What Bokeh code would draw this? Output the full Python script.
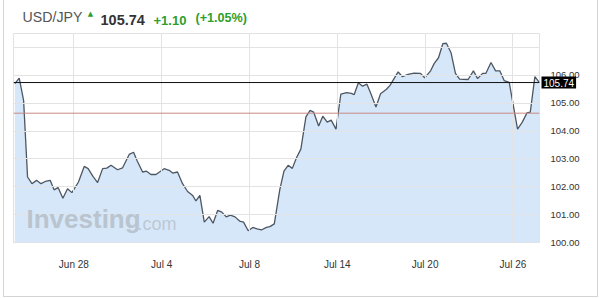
from bokeh.plotting import figure
from bokeh.layouts import row, column
from bokeh.models import (FixedTicker, Span, Label, NumeralTickFormatter, Range1d, Spacer)
from bokeh.embed import file_html
from bokeh.resources import INLINE

# Trading-day offsets (Jun 28 = 0) and USD/JPY prices
t_days = [-2.69, -2.49, -2.29, -2.11, -1.91, -1.70, -1.50, -1.30, -1.08, -0.90,
          -0.72, -0.50, -0.29, -0.09, 0.21, 0.47, 0.65, 0.87, 1.08, 1.31,
          1.50, 1.69, 1.99, 2.22, 2.52, 2.72, 2.87, 3.13, 3.31, 3.51,
          3.74, 4.11, 4.34, 4.50, 4.72, 4.95, 5.18, 5.41, 5.56, 5.74,
          5.94, 6.16, 6.34, 6.55, 6.74, 6.94, 7.13, 7.34, 7.55, 7.73,
          7.94, 8.15, 8.35, 8.54, 8.77, 8.93, 9.13, 9.38, 9.57, 9.76,
          9.95, 10.14, 10.34, 10.57, 10.76, 10.92, 11.15, 11.34, 11.54, 11.72,
          11.94, 12.16, 12.43, 12.64, 12.77, 12.96, 13.15, 13.35, 13.53, 13.76,
          13.97, 14.24, 14.40, 14.77, 14.97, 15.22, 15.50, 15.79, 15.98, 16.25,
          16.41, 16.61, 16.81, 16.97, 17.18, 17.38, 17.57, 17.96, 18.20, 18.39,
          18.62, 18.77, 19.00, 19.21, 19.40, 19.60, 19.83, 20.21, 20.42, 20.64,
          20.79, 21.00, 21.21]
usd_jpy = [105.70, 105.90, 105.10, 102.35, 102.11, 102.23, 102.11, 102.19, 102.23, 101.89,
           101.97, 101.59, 101.93, 101.79, 102.17, 102.73, 102.65, 102.37, 102.15, 102.65,
           102.67, 102.77, 102.61, 102.68, 103.16, 103.24, 102.95, 102.53, 102.56, 102.44,
           102.44, 102.65, 102.59, 102.49, 102.53, 102.11, 101.83, 101.69, 101.49, 101.69,
           100.73, 100.93, 100.69, 101.15, 101.09, 100.92, 100.98, 100.92, 100.77, 100.73,
           100.42, 100.54, 100.49, 100.45, 100.54, 100.57, 100.67, 101.90, 102.56, 102.77,
           102.66, 103.04, 103.35, 104.51, 104.74, 104.68, 104.18, 104.53, 104.32, 104.39,
           104.07, 105.32, 105.38, 105.35, 105.31, 105.73, 105.61, 105.68, 105.34, 104.86,
           105.34, 105.50, 105.64, 106.12, 105.95, 106.03, 106.08, 106.07, 105.91, 106.16,
           106.42, 106.63, 107.14, 107.15, 106.81, 106.07, 105.86, 105.85, 106.16, 105.88,
           106.07, 106.07, 106.46, 106.16, 106.16, 105.81, 105.75, 104.07, 104.31, 104.65,
           104.68, 105.95, 105.74]

x_tick_pos = [0, 4, 8, 12, 16, 20]
x_tick_labels = ["Jun 28", "Jul 4", "Jul 8", "Jul 14", "Jul 20", "Jul 26"]
y_ticks = [100, 101, 102, 103, 104, 105, 106]
y_grid = [100, 101, 102, 103, 104, 105, 106, 107]

last_price = 105.74
prev_close = 104.64
symbol = "USD/JPY"
change = "+1.10"
change_pct = "(+1.05%)"

GREEN = "#2e9e2e"
BORDER = "#d4d4d4"
FONT = "Liberation Sans"

# ---------- header strip (screen units from the strip's bottom-left) ----------
h = figure(width=593, height=30, output_backend="svg", toolbar_location=None, title=None,
           x_axis_location=None, y_axis_location=None,
           x_range=Range1d(0, 593), y_range=Range1d(0, 30),
           min_border_left=0, min_border_right=0, min_border_top=0, min_border_bottom=0)
h.grid.visible = False
h.outline_line_color = None
h.background_fill_color = "white"
h.border_fill_color = "white"

def head(x, text, size, color, bold=False):
    h.add_layout(Label(x=x - 4, y=6, x_units="screen", y_units="screen", text=text,
                       text_font=FONT, text_font_size=size, text_color=color,
                       text_font_style="bold" if bold else "normal"))

head(13, symbol, "14.2px", "#555555")
head(91, f"{last_price:.2f}", "14.5px", "#333333", bold=True)
head(144, change, "13px", GREEN, bold=True)
head(186, change_pct, "12.6px", GREEN, bold=True)
h.add_layout(Label(x=81 - 4, y=17, x_units="screen", y_units="screen", text="\u25b2",
                   text_font="DejaVu Sans", text_font_size="7px", text_color=GREEN,
                   text_align="center", text_baseline="middle"))

# ---------- main chart (page y 30..296) ----------
p = figure(width=593, height=266, output_backend="svg", toolbar_location=None,
           title=None, y_axis_location="right",
           x_range=Range1d(-2.75, 21.21), y_range=Range1d(100, 107.5),
           min_border_left=9, min_border_right=58, min_border_top=3, min_border_bottom=54)
p.background_fill_color = "white"
p.border_fill_color = "white"
p.outline_line_color = "#e2e2e2"

p.varea(x=t_days, y1=[100] * len(t_days), y2=usd_jpy, fill_color="#d6e7f9")
p.line(x=t_days, y=usd_jpy, line_color="#4d5763", line_width=1.3)

p.xaxis.ticker = FixedTicker(ticks=x_tick_pos)
p.xaxis.major_label_overrides = {k: v for k, v in zip(x_tick_pos, x_tick_labels)}
p.yaxis.ticker = FixedTicker(ticks=y_ticks)
p.yaxis.formatter = NumeralTickFormatter(format="0.00")
for ax in (p.xaxis[0], p.yaxis[0]):
    ax.axis_line_color = None
    ax.major_tick_line_color = None
    ax.minor_tick_line_color = None
    ax.major_label_text_font = FONT
    ax.major_label_text_color = "#333333"
p.xaxis.major_label_text_font_size = "10px"
p.xaxis.major_label_standoff = 10
p.yaxis.major_label_text_font_size = "9.5px"
p.yaxis.major_label_standoff = 5

p.xgrid.ticker = FixedTicker(ticks=x_tick_pos)
p.ygrid.ticker = FixedTicker(ticks=y_grid)
p.grid.grid_line_color = "#e3e3e3"
p.grid.level = "guide"

p.add_layout(Span(location=prev_close, dimension="width", line_color="#c98a84", line_width=1))
p.add_layout(Span(location=last_price, dimension="width", line_color="#111111", line_width=1))

# watermark (screen units relative to the plot frame)
p.add_layout(Label(x=13, y=9, x_units="screen", y_units="screen", text="Investing",
                   text_font=FONT, text_font_style="bold", text_font_size="26px",
                   text_color="#b9c4cf"))
p.add_layout(Label(x=124, y=9, x_units="screen", y_units="screen", text=".com",
                   text_font=FONT, text_font_size="18px", text_color="#bdc8d3"))

# price tag on the right axis (side panel, so it is not clipped to the frame)
p.add_layout(Label(x=528, y=last_price, x_units="screen", y_units="data", text=f"{last_price:.2f}",
                   text_color="white", text_font=FONT, text_font_size="10px",
                   text_baseline="middle", background_fill_color="black", padding=2), "below")

line_style = {"background-color": BORDER}
layout = row(
    Spacer(width=3, height=297),
    Spacer(width=1, height=297, styles=line_style),
    column(h, p, Spacer(width=593, height=1, styles=line_style)),
    Spacer(width=1, height=297, styles=line_style),
)

open("out.html", "w").write(file_html(layout, INLINE))
